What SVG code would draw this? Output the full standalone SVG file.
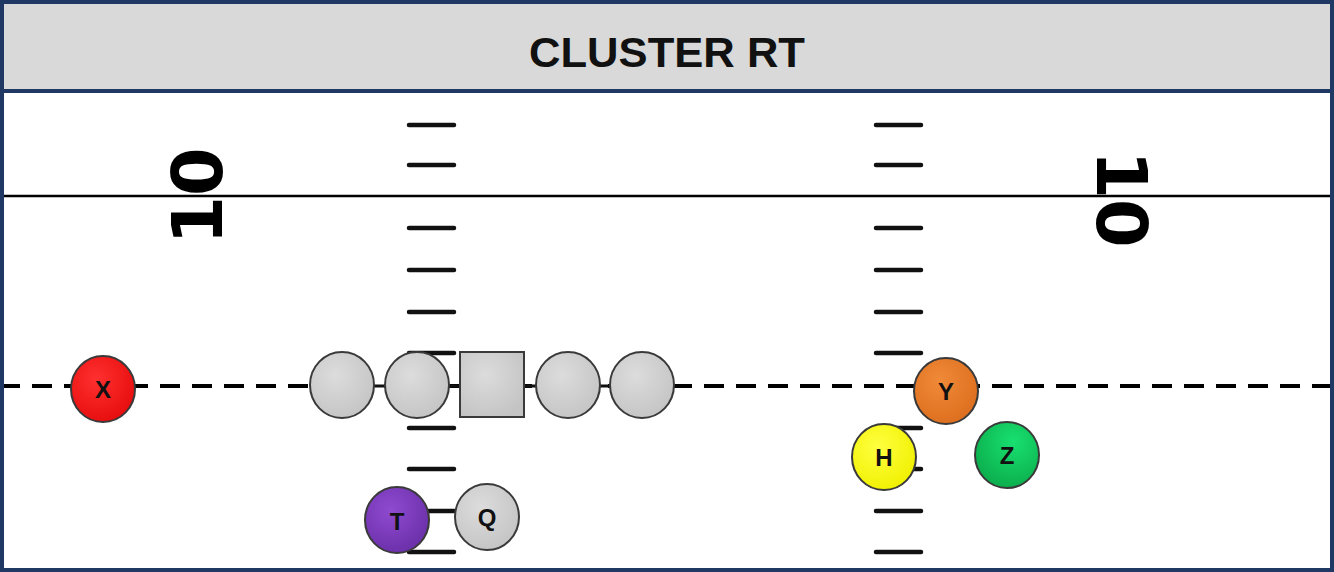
<svg xmlns="http://www.w3.org/2000/svg" width="1334" height="572" viewBox="0 0 1334 572">
<style>
.hash{stroke:#111;stroke-width:4.5;stroke-linecap:round}
.p{stroke:#3a3a3a;stroke-width:2}
.lbl{font-family:"Liberation Sans",Arial,sans-serif;font-weight:bold;font-size:24px;text-anchor:middle;fill:#111}
.num{font-family:"DejaVu Sans",sans-serif;font-weight:bold;font-size:70px;text-anchor:middle;fill:#000}
</style>
<defs>
<radialGradient id="gGray" cx="0.4" cy="0.35" r="0.7"><stop offset="0" stop-color="#dcdcdc"/><stop offset="1" stop-color="#c4c4c4"/></radialGradient>
<radialGradient id="gRed" cx="0.4" cy="0.35" r="0.7"><stop offset="0" stop-color="#ff3030"/><stop offset="1" stop-color="#e60c0c"/></radialGradient>
<radialGradient id="gPurple" cx="0.4" cy="0.35" r="0.7"><stop offset="0" stop-color="#8f4ad0"/><stop offset="1" stop-color="#6a2fa8"/></radialGradient>
<radialGradient id="gOrange" cx="0.4" cy="0.35" r="0.7"><stop offset="0" stop-color="#f08a38"/><stop offset="1" stop-color="#dc6e1e"/></radialGradient>
<radialGradient id="gYellow" cx="0.4" cy="0.35" r="0.7"><stop offset="0" stop-color="#ffff40"/><stop offset="1" stop-color="#f0f000"/></radialGradient>
<radialGradient id="gGreen" cx="0.6" cy="0.3" r="0.8"><stop offset="0" stop-color="#18e070"/><stop offset="1" stop-color="#0aa848"/></radialGradient>
</defs>
<rect x="0" y="0" width="1334" height="572" fill="#fff"/>
<g id="header">
<rect x="3" y="3" width="1328" height="88" fill="#d9d9d9"/>
<line x1="3" y1="91" x2="1331" y2="91" stroke="#1f3864" stroke-width="4"/>
<text x="667" y="67" font-family="Liberation Sans, Arial, sans-serif" font-weight="bold" font-size="42" text-anchor="middle" fill="#111" textLength="276" lengthAdjust="spacingAndGlyphs">CLUSTER RT</text>
</g>
<g id="field">
<line x1="0" y1="196" x2="1334" y2="196" stroke="#000" stroke-width="2.5"/>
<text class="num" transform="translate(196,196) rotate(-90)" x="0" y="25.5">10</text>
<text class="num" transform="translate(1122,199) rotate(90)" x="0" y="25.5">10</text>
<g id="hash-left">
<line class="hash" x1="409" y1="125" x2="454" y2="125"/>
<line class="hash" x1="409" y1="165" x2="454" y2="165"/>
<line class="hash" x1="409" y1="228" x2="454" y2="228"/>
<line class="hash" x1="409" y1="270" x2="454" y2="270"/>
<line class="hash" x1="409" y1="312" x2="454" y2="312"/>
<line class="hash" x1="409" y1="353" x2="454" y2="353"/>
<line class="hash" x1="409" y1="428" x2="454" y2="428"/>
<line class="hash" x1="409" y1="469" x2="454" y2="469"/>
<line class="hash" x1="409" y1="511" x2="454" y2="511"/>
<line class="hash" x1="409" y1="552" x2="454" y2="552"/>
</g>
<g id="hash-right">
<line class="hash" x1="876" y1="125" x2="921" y2="125"/>
<line class="hash" x1="876" y1="165" x2="921" y2="165"/>
<line class="hash" x1="876" y1="228" x2="921" y2="228"/>
<line class="hash" x1="876" y1="270" x2="921" y2="270"/>
<line class="hash" x1="876" y1="312" x2="921" y2="312"/>
<line class="hash" x1="876" y1="353" x2="921" y2="353"/>
<line class="hash" x1="876" y1="428" x2="921" y2="428"/>
<line class="hash" x1="876" y1="469" x2="921" y2="469"/>
<line class="hash" x1="876" y1="511" x2="921" y2="511"/>
<line class="hash" x1="876" y1="552" x2="921" y2="552"/>
</g>
</g>
<g id="connectors">
<line x1="0" y1="386" x2="1334" y2="386" stroke="#000" stroke-width="4" stroke-dasharray="20 12"/>
<line x1="310" y1="386" x2="675" y2="386" stroke="#111" stroke-width="3"/>
</g>
<g id="line-1"><ellipse class="p" cx="342" cy="385" rx="32" ry="33" fill="url(#gGray)"/></g>
<g id="line-2"><ellipse class="p" cx="417" cy="385" rx="32" ry="33" fill="url(#gGray)"/></g>
<g id="center"><rect class="p" x="460" y="352" width="64" height="65" fill="url(#gGray)"/></g>
<g id="line-3"><ellipse class="p" cx="568" cy="385" rx="32" ry="33" fill="url(#gGray)"/></g>
<g id="line-4"><ellipse class="p" cx="642" cy="385" rx="32" ry="33" fill="url(#gGray)"/></g>
<g id="X"><ellipse class="p" cx="103" cy="389" rx="32" ry="33" fill="url(#gRed)"/><text class="lbl" x="103" y="398">X</text></g>
<g id="T"><ellipse class="p" cx="397" cy="520" rx="32" ry="33" fill="url(#gPurple)"/><text class="lbl" x="397" y="530">T</text></g>
<g id="Q"><ellipse class="p" cx="487" cy="517" rx="32" ry="33" fill="url(#gGray)"/><text class="lbl" x="487" y="526">Q</text></g>
<g id="Y"><ellipse class="p" cx="946" cy="391" rx="32" ry="33" fill="url(#gOrange)"/><text class="lbl" x="946" y="400">Y</text></g>
<g id="H"><ellipse class="p" cx="884" cy="457" rx="32" ry="33" fill="url(#gYellow)"/><text class="lbl" x="884" y="466">H</text></g>
<g id="Z"><ellipse class="p" cx="1007" cy="455" rx="32" ry="33" fill="url(#gGreen)"/><text class="lbl" x="1007" y="464">Z</text></g>
<rect x="2" y="2" width="1330" height="568" fill="none" stroke="#1f3864" stroke-width="4"/>
</svg>
